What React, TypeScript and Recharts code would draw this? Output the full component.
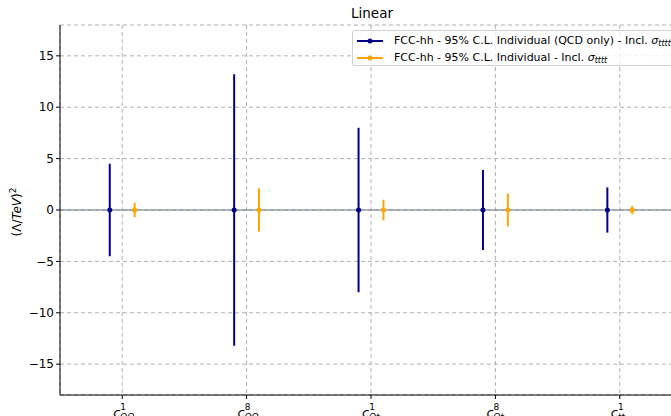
import { ComposedChart, Scatter, ErrorBar, XAxis, YAxis, CartesianGrid, ReferenceLine } from "recharts";

const FONT = "'DejaVu Sans', sans-serif";
const BLUE = "#00008b";
const ORANGE = "#ffa500";

// Wilson coefficients on the x axis (c^sup_sub)
const operatorSup = ["1", "8", "1", "8", "1"];
const operatorSub = ["QQ", "QQ", "Qt", "Qt", "tt"];

// 95% C.L. half-widths, (Λ/TeV)^2
const qcdOnlyLimits = [4.5, 13.2, 8.0, 3.9, 2.2];
const fullLimits = [0.7, 2.1, 1.0, 1.6, 0.4];

const yTicks = [-15, -10, -5, 0, 5, 10, 15];
const xTicks = operatorSup.map((_, i) => i);

const qcdOnlyData = qcdOnlyLimits.map((v, i) => ({ x: i - 0.1, y: 0, err: v }));
const fullData = fullLimits.map((v, i) => ({ x: i + 0.1, y: 0, err: v }));

const formatY = (v: number) => (v < 0 ? `\u2212${Math.abs(v)}` : `${v}`);

const OperatorTick = ({ x, y, payload }: any) => {
  const i = payload.value as number;
  return (
    <text x={x - 9} y={y + 16} fontFamily={FONT} fontSize={13} fill="#000">
      <tspan fontStyle="italic">c</tspan>
      <tspan dy={-7} fontSize={9}>{operatorSup[i]}</tspan>
      <tspan dx={-6} dy={10} fontSize={9} fontStyle="italic">{operatorSub[i]}</tspan>
    </text>
  );
};

const Dot = (color: string) => (props: any) => <circle cx={props.cx} cy={props.cy} r={2.5} fill={color} />;

const Sigma = () => (
  <span style={{ fontStyle: "italic" }}>
    σ<sub style={{ fontSize: 8, verticalAlign: "-2px" }}>tttt</sub>
  </span>
);

const LegendRow = ({ color, children }: { color: string; children: any }) => (
  <div style={{ display: "flex", alignItems: "center", height: 17 }}>
    <svg width={28} height={10} style={{ marginRight: 10 }}>
      <line x1={1} x2={27} y1={5} y2={5} stroke={color} strokeWidth={2} />
      <circle cx={14} cy={5} r={2.5} fill={color} />
    </svg>
    <span>{children}</span>
  </div>
);

export default function App() {
  return (
    <div
      style={{
        position: "absolute",
        left: 0,
        top: 0,
        width: 671,
        height: 416,
        overflow: "hidden",
        background: "#fff",
        fontFamily: FONT,
      }}
    >
      <ComposedChart width={700} height={416} margin={{ top: 25, right: 18, bottom: 0, left: 0 }}>
        <CartesianGrid stroke="#b0b0b0" strokeDasharray="4 3" />
        <XAxis
          type="number"
          dataKey="x"
          domain={[-0.5, 4.5]}
          ticks={xTicks}
          allowDataOverflow
          height={21}
          tick={<OperatorTick />}
          tickSize={4}
          tickLine={{ stroke: "#000" }}
          axisLine={{ stroke: "#000" }}
        />
        <XAxis
          xAxisId="top"
          orientation="top"
          type="number"
          domain={[-0.5, 4.5]}
          height={0}
          tick={false}
          tickLine={false}
          axisLine={{ stroke: "#000" }}
        />
        <YAxis
          type="number"
          dataKey="y"
          domain={[-18, 18]}
          ticks={yTicks}
          width={60}
          tickFormatter={formatY}
          tick={{ fill: "#000", fontSize: 12, fontFamily: FONT }}
          tickSize={4}
          tickLine={{ stroke: "#000" }}
          axisLine={{ stroke: "#000" }}
        />
        <Scatter data={qcdOnlyData} dataKey="y" fill={BLUE} shape={Dot(BLUE)} isAnimationActive={false}>
          <ErrorBar dataKey="err" direction="y" width={0} stroke={BLUE} strokeWidth={2} isAnimationActive={false} />
        </Scatter>
        <Scatter data={fullData} dataKey="y" fill={ORANGE} shape={Dot(ORANGE)} isAnimationActive={false}>
          <ErrorBar dataKey="err" direction="y" width={0} stroke={ORANGE} strokeWidth={2} isAnimationActive={false} />
        </Scatter>
        <ReferenceLine y={0} stroke="#708090" strokeOpacity={0.55} strokeWidth={2} />
      </ComposedChart>

      <svg width={40} height={416} style={{ position: "absolute", left: 0, top: 0 }}>
        <text transform="translate(21,212) rotate(-90)" textAnchor="middle" fontFamily={FONT} fontSize={12} fill="#000">
          <tspan>(Λ/</tspan>
          <tspan fontStyle="italic">TeV</tspan>
          <tspan>)</tspan>
          <tspan dy={-5} fontSize={9}>2</tspan>
        </text>
      </svg>

      <div
        style={{
          position: "absolute",
          left: 0,
          width: 744,
          top: 5,
          textAlign: "center",
          fontSize: 13.5,
          color: "#000",
        }}
      >
        Linear
      </div>

      <div
        style={{
          position: "absolute",
          left: 352,
          top: 30,
          width: 340,
          height: 36,
          border: "1px solid #d0d0d0",
          borderRadius: 3,
          background: "rgba(255,255,255,0.8)",
          fontSize: 11,
          color: "#000",
          padding: "1px 0 0 3px",
          boxSizing: "border-box",
          whiteSpace: "nowrap",
        }}
      >
        <LegendRow color={BLUE}>
          FCC-hh - 95% C.L. Individual (QCD only) - Incl. <Sigma />
        </LegendRow>
        <LegendRow color={ORANGE}>
          FCC-hh - 95% C.L. Individual - Incl. <Sigma />
        </LegendRow>
      </div>
    </div>
  );
}
